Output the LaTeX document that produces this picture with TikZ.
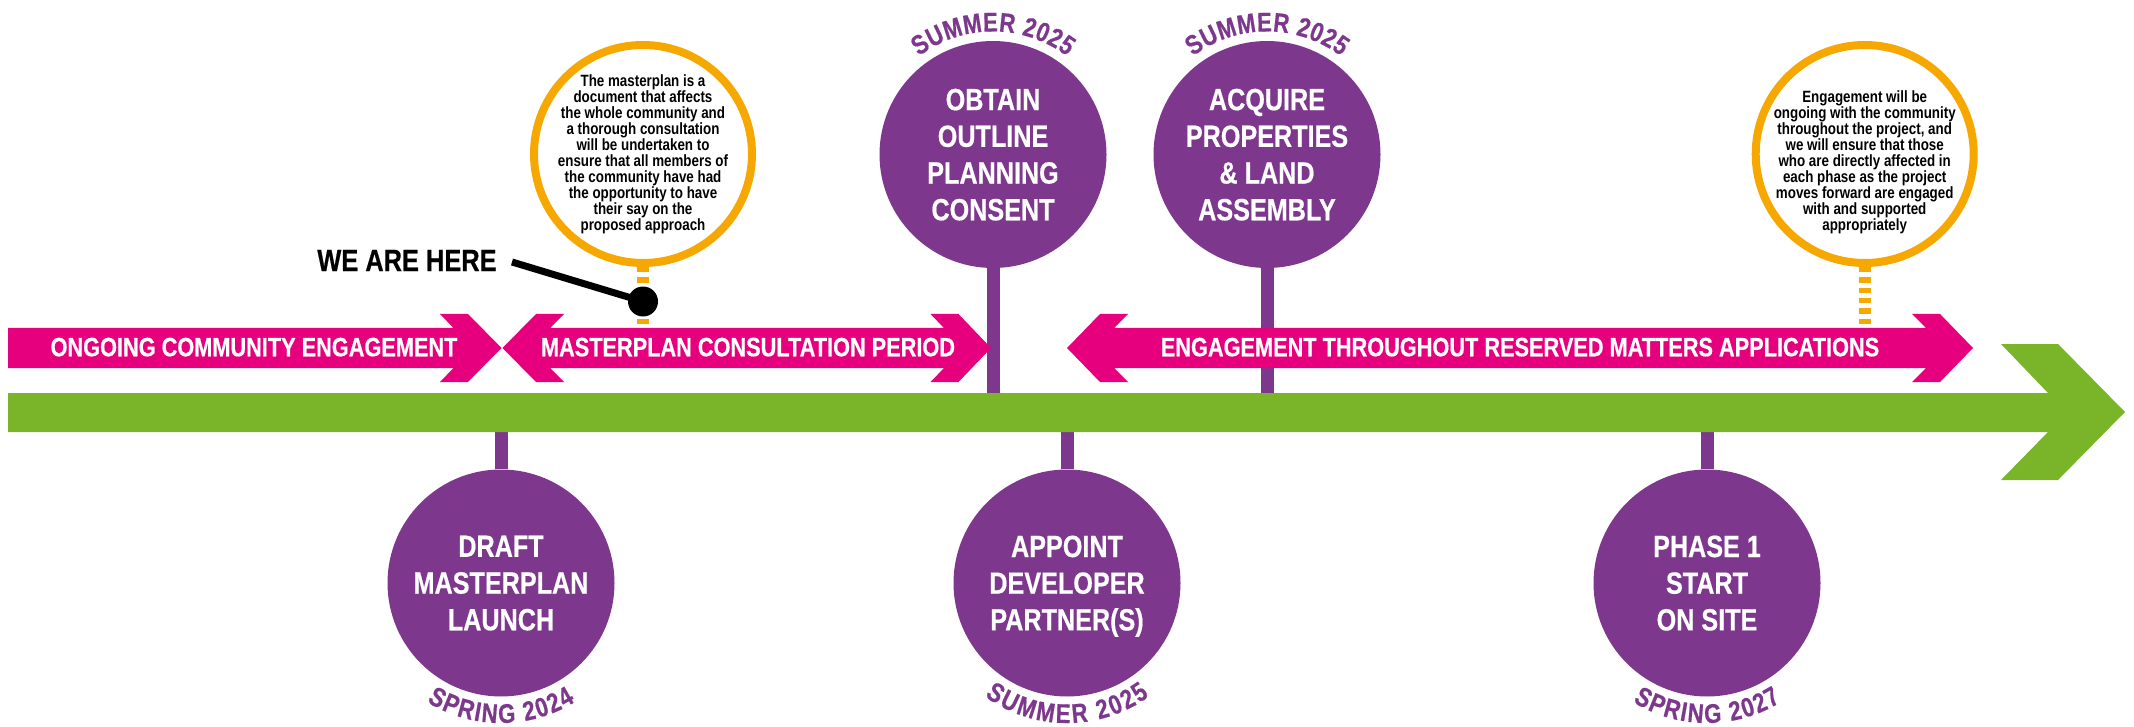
\documentclass[tikz,border=0pt]{standalone}
\usepackage{fontspec}
\usetikzlibrary{calc,decorations.text}
\newfontfamily\cf{Liberation Sans}[FakeStretch=0.82, FakeBold=0.5]
\newfontfamily\cfs{Liberation Sans}[FakeStretch=0.82]
\definecolor{purp}{RGB}{125,56,141}
\definecolor{mag}{RGB}{230,0,126}
\definecolor{grn}{RGB}{122,181,41}
\definecolor{org}{RGB}{246,168,0}
\newcommand\datefont{\cf\bfseries\fontsize{27}{27}\selectfont}
\begin{document}
\begin{tikzpicture}[x=1pt,y=-1pt,
  pcirc/.style={circle, fill=purp, minimum size=227pt, inner sep=0pt, text=white, align=center, text depth=0pt, font=\cf\bfseries\fontsize{30.7}{36.7}\selectfont},
  ocirc/.style={circle, draw=org, line width=8pt, fill=white, minimum size=218pt, inner sep=0pt},
  otext/.style={align=center, inner sep=0pt, font=\cfs\bfseries\fontsize{16.3}{16}\selectfont},
  band/.style={fill=mag},
  bandtext/.style={text=white, inner sep=0pt, text depth=0pt, font=\cf\bfseries\fontsize{26.5}{26.5}\selectfont},
  stem/.style={draw=purp, line width=13pt},
  odash/.style={draw=org, line width=12pt, dash pattern=on 5.3pt off 5pt},
  datetext/.style={decorate, decoration={text along path, text align=fit to path, text color=purp, text={|\datefont|#1}}}
]
\useasboundingbox (0,0) rectangle (2134,727);
\fill[white] (0,0) rectangle (2134,727);

% bar edges
\coordinate (bartop) at (0,393);
\coordinate (barbot) at (0,432);

% purple milestone circles
\node[pcirc] (obtain) at (993,154.5) {OBTAIN\\OUTLINE\\PLANNING\\CONSENT};
\node[pcirc] (acquire) at (1267,154.5) {ACQUIRE\\PROPERTIES\\\& LAND\\ASSEMBLY};
\node[pcirc] (draft) at (501,583) {DRAFT\\MASTERPLAN\\LAUNCH};
\node[pcirc] (appoint) at (1067,583) {APPOINT\\DEVELOPER\\PARTNER(S)};
\node[pcirc] (phase) at (1707,583) {PHASE 1\\START\\ON SITE};

% stems
\draw[stem] (obtain.south) -- (obtain.south |- bartop);
\draw[stem] (acquire.south) -- (acquire.south |- bartop);
\draw[stem] (draft.north) -- (draft.north |- barbot);
\draw[stem] (appoint.north) -- (appoint.north |- barbot);
\draw[stem] (phase.north) -- (phase.north |- barbot);

% orange info circles
\node[ocirc] (orL) at (643,154) {};
\node[ocirc] (orR) at (1864.7,154) {};
\node[otext] (orLtext) at (643,154) {The masterplan is a\\document that affects\\the whole community and\\a thorough consultation\\will be undertaken to\\ensure that all members of\\the community have had\\the opportunity to have\\their say on the\\proposed approach};
\node[otext] (orRtext) at (1864.7,162) {Engagement will be\\ongoing with the community\\throughout the project, and\\we will ensure that those\\who are directly affected in\\each phase as the project\\moves forward are engaged\\with and supported\\appropriately};
\coordinate (dL) at (643,324);
\coordinate (dR) at (1864.7,324);
\draw[odash] (dL) -- (orL.south);
\draw[odash] (dR) -- (orR.south);

% green timeline arrow
\fill[grn] (8,393) -- (2048,393) -- (2001,344) -- (2058,344) -- (2125,412) -- (2058,480) -- (2001,480) -- (2048,432) -- (8,432) -- cycle;

% pink bands
\fill[band] (8,328) -- (453.5,328) -- (440,314) -- (468,314) -- (501.5,348) -- (468,382) -- (440,382) -- (453.5,368) -- (8,368) -- cycle;
\fill[band] (502.5,348) -- (536,314) -- (564,314) -- (550,328) -- (944,328) -- (930.5,314) -- (958.5,314) -- (991,348) -- (958.5,382) -- (930.5,382) -- (944,368) -- (550,368) -- (564,382) -- (536,382) -- cycle;
\fill[band] (1067,348) -- (1100,314) -- (1128,314) -- (1114,328) -- (1926,328) -- (1912,314) -- (1940,314) -- (1973,348) -- (1940,382) -- (1912,382) -- (1926,368) -- (1114,368) -- (1128,382) -- (1100,382) -- cycle;
\node[bandtext] (t1) at (254,347) {ONGOING COMMUNITY ENGAGEMENT};
\node[bandtext] (t2) at (748,347) {MASTERPLAN CONSULTATION PERIOD};
\node[bandtext] (t3) at (1520,347) {ENGAGEMENT THROUGHOUT RESERVED MATTERS APPLICATIONS};

% we are here
\node[inner sep=0pt, text depth=0pt, font=\cf\bfseries\fontsize{31}{31}\selectfont] (here) at (407,260.5) {WE ARE HERE};
\coordinate (wepin) at (512,262);
\node[circle, fill=black, minimum size=30pt, inner sep=0pt] (dot) at (643,301.5) {};
\draw[line width=7pt] (wepin) -- (dot.center);

% dates
\path[datetext={SUMMER 2025}] ($(obtain.center)+(127:123pt)$) arc[start angle=127, end angle=53, radius=123pt];
\path[datetext={SUMMER 2025}] ($(acquire.center)+(127:123pt)$) arc[start angle=127, end angle=53, radius=123pt];
\path[datetext={SPRING 2024}] ($(draft.center)+(238:140pt)$) arc[start angle=238, end angle=302, radius=140pt];
\path[datetext={SUMMER 2025}] ($(appoint.center)+(234:140pt)$) arc[start angle=234, end angle=306, radius=140pt];
\path[datetext={SPRING 2027}] ($(phase.center)+(238:140pt)$) arc[start angle=238, end angle=302, radius=140pt];
\end{tikzpicture}
\end{document}
